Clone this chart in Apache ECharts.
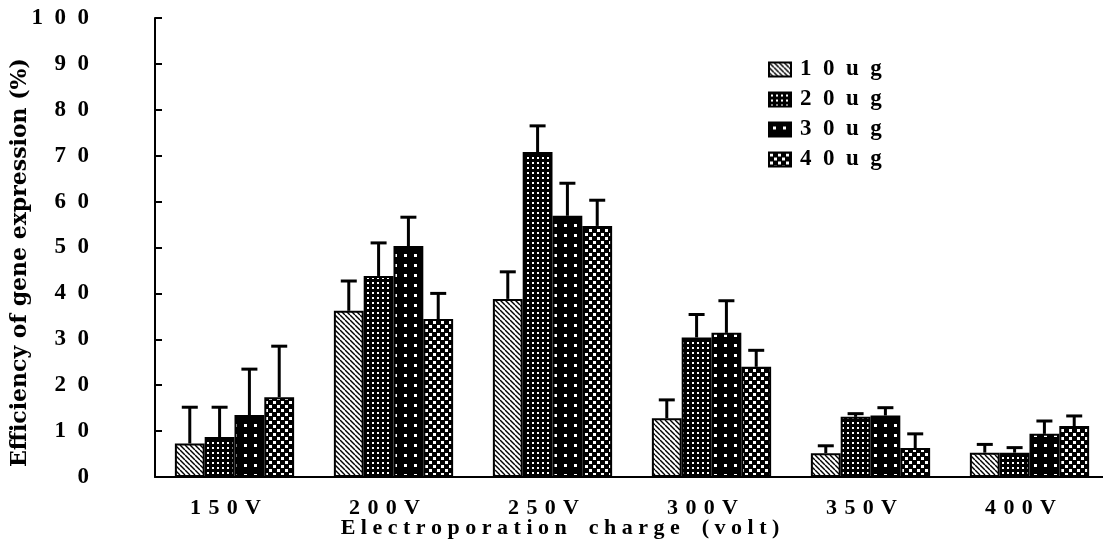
<!DOCTYPE html>
<html><head><meta charset="utf-8">
<script src="https://cdn.jsdelivr.net/npm/echarts@6/dist/echarts.min.js"></script>
<style>html,body{margin:0;padding:0;background:#fff}#c{width:1103px;height:552px}</style>
</head><body><div id="c"></div>
<script>
const categories = ['150V', '200V', '250V', '300V', '350V', '400V'];
const seriesNames = ['10ug', '20ug', '30ug', '40ug'];
const mean10 = [7.3, 36.2, 38.8, 12.8, 5.2, 5.3];
const mean20 = [8.7, 43.8, 70.8, 30.4, 13.1, 5.3];
const mean30 = [13.5, 50.3, 56.9, 31.4, 13.4, 9.4];
const mean40 = [17.4, 34.4, 54.7, 24.0, 6.3, 11.1];
const err10 = [7.9, 6.5, 5.9, 4.0, 1.6, 1.8];
const err20 = [6.5, 7.2, 5.7, 5.0, 0.7, 1.1];
const err30 = [10.0, 6.3, 7.1, 7.0, 1.7, 2.8];
const err40 = [11.1, 5.6, 5.6, 3.6, 3.1, 2.2];
const yMin = 0, yMax = 100, yStep = 10;
const xTitle = 'Electroporation charge (volt)';
const yTitle = 'Efficiency of gene expression (%)';

const means = [mean10, mean20, mean30, mean40];
const errs = [err10, err20, err30, err40];
const EN = '\u2002';
const TPM = '\u2004';
const FONT = '"Liberation Serif", "DejaVu Serif", serif';

function pattern(kind) {
  const c = document.createElement('canvas');
  let s;
  if (kind === 0) {
    s = 5; c.width = s; c.height = s;
    const g = c.getContext('2d');
    g.fillStyle = '#fff'; g.fillRect(0, 0, s, s);
    g.strokeStyle = '#000'; g.lineWidth = 1.4;
    for (let k = -1; k <= 1; k++) { g.beginPath(); g.moveTo(k * s, 0); g.lineTo(k * s + s, s); g.stroke(); }
  } else if (kind === 1) {
    s = 5; c.width = s; c.height = s;
    const g = c.getContext('2d');
    g.fillStyle = '#000'; g.fillRect(0, 0, s, s);
    g.fillStyle = '#fff'; g.fillRect(2, 2, 2, 2);
  } else if (kind === 2) {
    s = 10; c.width = s; c.height = s;
    const g = c.getContext('2d');
    g.fillStyle = '#000'; g.fillRect(0, 0, s, s);
    g.fillStyle = '#fff'; g.fillRect(4, 4, 3, 3);
  } else {
    s = 8; c.width = s; c.height = s;
    const g = c.getContext('2d');
    g.fillStyle = '#000'; g.fillRect(0, 0, s, s);
    g.fillStyle = '#fff';
    g.fillRect(1, 1, 3, 3); g.fillRect(5, 5, 3, 3);
  }
  return { image: c, repeat: 'repeat' };
}

const CAT_GAP = 0.25;
const barSeries = seriesNames.map((n, i) => ({
  name: n, type: 'bar', data: means[i],
  barGap: '0%', barCategoryGap: (CAT_GAP * 100) + '%',
  itemStyle: { color: pattern(i), borderColor: '#000', borderWidth: 2 },
  emphasis: { disabled: true }, animation: false
}));

const errData = [];
means.forEach((arr, si) => arr.forEach((m, ci) => errData.push([ci, si, m, errs[si][ci]])));

const errSeries = {
  type: 'custom', data: errData, encode: { x: 0, y: 2 }, z: 5, animation: false, silent: true,
  renderItem: (params, api) => {
    const ci = api.value(0), si = api.value(1), m = api.value(2), e = api.value(3);
    const p0 = api.coord([ci, m]);
    const p1 = api.coord([ci, m + e]);
    const band = api.size([1, 0])[0];
    const bw = band * (1 - CAT_GAP) / 4;
    const x = p0[0] + (si - 1.5) * bw;
    return { type: 'group', children: [
      { type: 'line', shape: { x1: x, y1: p0[1], x2: x, y2: p1[1] }, style: { stroke: '#000', lineWidth: 3 } },
      { type: 'line', shape: { x1: x - 8, y1: p1[1], x2: x + 8, y2: p1[1] }, style: { stroke: '#000', lineWidth: 3 } }
    ]};
  }
};

const chart = echarts.init(document.getElementById('c'));
chart.setOption({
  backgroundColor: '#fff',
  animation: false,
  grid: { left: 155, top: 18, width: 954, bottom: 75, containLabel: false, outerBoundsMode: 'none' },
  legend: {
    data: seriesNames, orient: 'vertical', left: 763, top: 53,
    itemWidth: 22, itemHeight: 14, itemGap: 7, icon: 'rect',
    formatter: n => n.split('').join(EN),
    textStyle: { color: '#000', fontFamily: FONT, fontWeight: 'bold', fontSize: 23, padding: [0, 0, 0, 4] }
  },
  xAxis: {
    type: 'category', data: categories,
    axisLine: { lineStyle: { color: '#000', width: 2 } },
    axisTick: { inside: true, length: 6, lineStyle: { color: '#000', width: 2 } },
    axisLabel: {
      formatter: v => '{a|' + v.split('').join(TPM) + '}',
      rich: { a: { color: '#000', fontFamily: FONT, fontWeight: 'bold', fontSize: 22, padding: [0, 18, 0, 0] } },
      margin: 20
    },
    name: xTitle.split('').join(' ').replace(/   /g, '    '), nameLocation: 'middle', nameGap: 40,
    nameMoveOverlap: false,
    nameTextStyle: { color: '#000', fontFamily: FONT, fontWeight: 'bold', fontSize: 22, padding: [0, 144, 0, 0] }
  },
  yAxis: {
    type: 'value', min: yMin, max: yMax, interval: yStep,
    splitLine: { show: false },
    axisLine: { show: true, lineStyle: { color: '#000', width: 2 } },
    axisTick: { show: true, inside: true, length: 7, lineStyle: { color: '#000', width: 2 } },
    axisLabel: { formatter: v => String(v).split('').join(EN), color: '#000', fontFamily: FONT, fontWeight: 'bold', fontSize: 23, margin: 66 },
    name: yTitle, nameLocation: 'middle', nameRotate: 90, nameGap: 124,
    nameMoveOverlap: false,
    nameTextStyle: { color: '#000', fontFamily: '"DejaVu Serif", serif', fontWeight: 'bold', fontSize: 22, padding: [0, 30, 0, 0] }
  },
  series: [...barSeries, errSeries]
});
</script>
</body></html>
